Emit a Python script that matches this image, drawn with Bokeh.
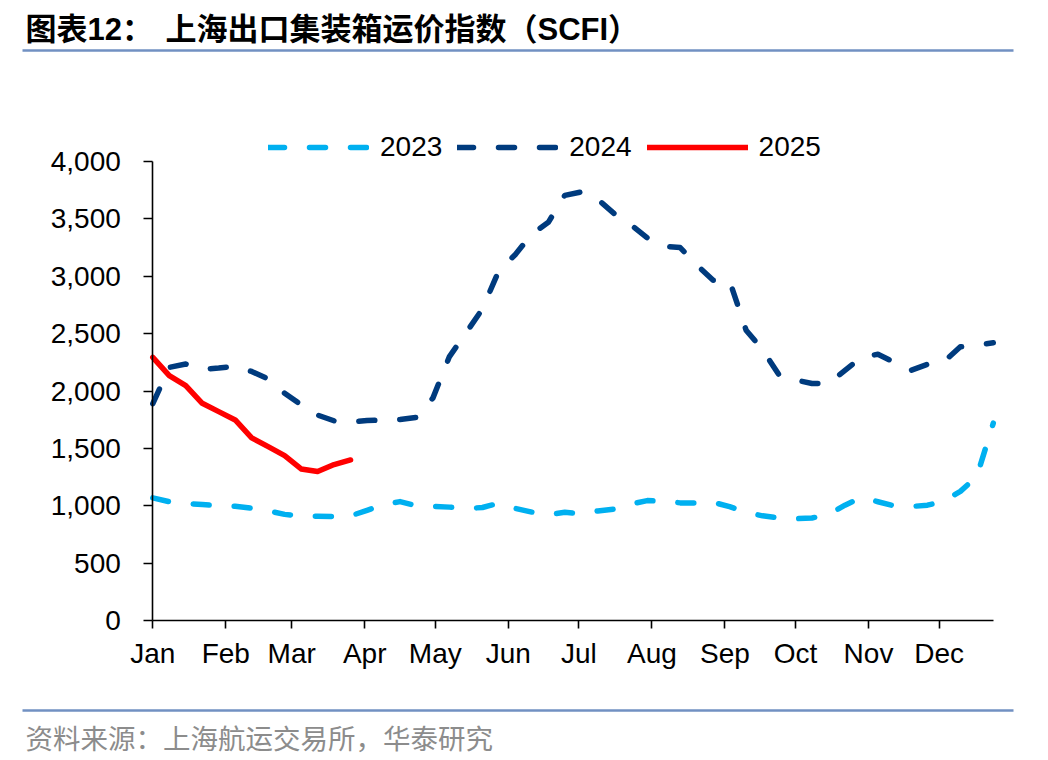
from bokeh.plotting import figure
from bokeh.models import (FixedTicker, NumeralTickFormatter, Range1d, Legend,
                          LegendItem)
from bokeh.core.properties import value
from bokeh.embed import file_html
from bokeh.resources import INLINE

# Month tick positions (day offset from the first weekly reading) and names
month_start_day = [0, 31, 59, 90, 120, 151, 181, 212, 243, 273, 304, 334]
month_labels = ["Jan", "Feb", "Mar", "Apr", "May", "Jun",
                "Jul", "Aug", "Sep", "Oct", "Nov", "Dec"]

# Weekly SCFI readings
scfi_2023 = [1069, 1035, 1020, 1010, 1000, 995, 978, 955, 925, 908, 908, 906,
             912, 960, 1010, 1036, 1000, 995, 988, 975, 985, 1022, 977, 945,
             922, 943, 930, 955, 970, 1015, 1045, 1040, 1025, 1025, 1030, 993,
             942, 912, 893, 887, 893, 925, 1005, 1072, 1035, 998, 993, 1005,
             1040, 1125, 1255, 1720]
scfi_2024 = [1890, 2206, 2235, 2190, 2200, 2215, 2170, 2105, 1980, 1880, 1790,
             1740, 1730, 1742, 1748, 1752, 1770, 1940, 2300, 2505, 2715, 3050,
             3190, 3368, 3470, 3705, 3735, 3670, 3545, 3450, 3335, 3260, 3250,
             3100, 2965, 2960, 2530, 2360, 2140, 2096, 2065, 2065, 2180, 2295,
             2320, 2250, 2180, 2232, 2255, 2385, 2400, 2420]
scfi_2025 = [2293, 2134, 2047, 1893, 1820, 1748, 1591, 1515, 1437, 1321, 1298,
             1359, 1399]

series_years = ["2023", "2024", "2025"]
series_colors = ["#00B0F0", "#003B7E", "#FF0000"]

title_label = "图表12："
title_text = "上海出口集装箱运价指数（SCFI）"
source_text = "资料来源：上海航运交易所，华泰研究"


def week_days(values):
    return [7 * i for i in range(len(values))]


# Canvas geometry: the plotting area runs from x=152..993 px and y=161..620 px
W, H = 1048, 760
AX_L, AX_R = 152.3, 992.8
AX_T, AX_B = 161.0, 620.0
X_MAX, Y_MAX = 357, 4000
kx = (AX_R - AX_L) / X_MAX
ky = (AX_B - AX_T) / Y_MAX


def dx(px):
    """canvas pixel x -> day"""
    return (px - AX_L) / kx


def dy(py):
    """canvas pixel y -> index value"""
    return (AX_B - py) / ky


p = figure(width=W, height=H, output_backend="svg", toolbar_location=None,
           x_range=Range1d(dx(0), dx(W)), y_range=Range1d(dy(H), dy(0)),
           min_border=0)
p.outline_line_color = None
p.xgrid.visible = False
p.ygrid.visible = False
p.background_fill_color = "white"
p.border_fill_color = "white"

FONT = "Liberation Sans"
p.xaxis.ticker = FixedTicker(ticks=month_start_day)
p.xaxis.major_label_overrides = {d: m for d, m in zip(month_start_day, month_labels)}
p.xaxis.bounds = (0, X_MAX)
p.xaxis.fixed_location = 0
p.yaxis.ticker = FixedTicker(ticks=list(range(0, 4001, 500)))
p.yaxis.formatter = NumeralTickFormatter(format="0,0")
p.yaxis.bounds = (0, Y_MAX)
p.yaxis.fixed_location = 0
for ax in (p.xaxis, p.yaxis):
    ax.axis_line_color = "black"
    ax.axis_line_width = 1.6
    ax.major_tick_line_color = "black"
    ax.major_tick_line_width = 1.6
    ax.major_tick_in = 0
    ax.minor_tick_line_color = None
    ax.major_label_text_font = FONT
    ax.major_label_text_font_size = "28px"
    ax.major_label_text_color = "black"
p.xaxis.major_tick_out = 8
p.yaxis.major_tick_out = 9
p.xaxis.major_label_standoff = 9
p.yaxis.major_label_standoff = 23

dash_style = dict(line_width=5.5, line_dash="16 25", line_cap="round", line_join="round")
r23 = p.line(week_days(scfi_2023), scfi_2023, line_color=series_colors[0], **dash_style)
r24 = p.line(week_days(scfi_2024), scfi_2024, line_color=series_colors[1], **dash_style)
r25 = p.line(week_days(scfi_2025), scfi_2025, line_color=series_colors[2],
             line_width=5.5, line_cap="round", line_join="round")

legend = Legend(
    items=[LegendItem(label=y, renderers=[r]) for y, r in zip(series_years, [r23, r24, r25])],
    orientation="horizontal", location=(268, H - 163),
    glyph_width=101, glyph_height=30, label_standoff=11, spacing=15,
    padding=0, margin=0, border_line_alpha=0, background_fill_alpha=0,
    label_text_font=FONT, label_text_font_size="28px", label_text_color="black",
    label_text_baseline="middle",
)
p.add_layout(legend, "center")

# Heading, source note and the two rules framing the chart
rule_color = "#7190C2"
heading_font = value("Liberation Sans, Noto Sans CJK SC")
p.text(x=[dx(25), dx(165)], y=[dy(29), dy(29)], text=[title_label, title_text],
       text_font=heading_font, text_font_size="31px", text_font_style="bold",
       text_baseline="middle", text_align="left", text_color="black")
for ry in (50, 710):
    p.line(x=[dx(22), dx(1013)], y=[dy(ry), dy(ry)], line_color=rule_color, line_width=2.5)
p.text(x=[dx(25)], y=[dy(736)], text=[source_text], text_font=value("Noto Sans CJK SC"),
       text_font_size="27.5px", text_baseline="middle", text_align="left",
       text_color="#8C8C8C")

open("out.html", "w").write(file_html(p, INLINE))
